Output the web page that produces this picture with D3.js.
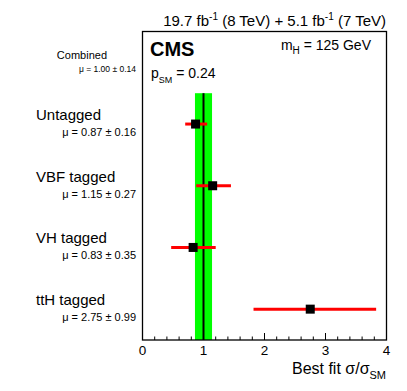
<!DOCTYPE html>
<html><head><meta charset="utf-8">
<script src="https://cdn.jsdelivr.net/npm/d3@7"></script>
<style>body{margin:0;background:#fff}text{font-family:"Liberation Sans",Arial,sans-serif}</style>
</head><body>
<svg id="c" width="407" height="391"></svg>
<script>
const categories = ["Combined", "Untagged", "VBF tagged", "VH tagged", "ttH tagged"];
const muLabels = ["1.00", "0.87", "1.15", "0.83", "2.75"];
const errLabels = ["0.14", "0.16", "0.27", "0.35", "0.99"];
const muValues = [1.00, 0.87, 1.15, 0.83, 2.75];
const errLow = [0.86, 0.70, 0.88, 0.47, 1.82];
const errHigh = [1.14, 1.06, 1.45, 1.20, 3.83];
const xTicks = [0, 1, 2, 3, 4];

const svg = d3.select("#c");
const L = 142.5, R = 386.5, T = 31.5, B = 340;
const x = d3.scaleLinear().domain([0, 4]).range([L, R]);
const y = d3.scaleLinear().domain([-0.5, 4.5]).range([T, B]);

// combined band
svg.append("rect").attr("x", x(errLow[0])).attr("width", x(errHigh[0]) - x(errLow[0]))
  .attr("y", y(0.5)).attr("height", B - y(0.5)).attr("fill", "#00ff00");
svg.append("line").attr("x1", x(muValues[0])).attr("x2", x(muValues[0]))
  .attr("y1", y(0.5)).attr("y2", B).attr("stroke", "#000").attr("stroke-width", 2);

// error bars and points
const rows = d3.range(1, categories.length);
svg.selectAll(".err").data(rows).join("line")
  .attr("x1", i => x(errLow[i])).attr("x2", i => x(errHigh[i]))
  .attr("y1", i => y(i)).attr("y2", i => y(i))
  .attr("stroke", "#ff0000").attr("stroke-width", 3);
svg.selectAll(".pt").data(rows).join("rect")
  .attr("x", i => x(muValues[i]) - 4.5).attr("y", i => y(i) - 4.5)
  .attr("width", 9).attr("height", 9).attr("fill", "#000");

// frame
svg.append("rect").attr("x", L).attr("y", T).attr("width", R - L).attr("height", B - T)
  .attr("fill", "none").attr("stroke", "#000").attr("stroke-width", 1.3);

// ticks (inward)
const minor = d3.range(0, 4.001, 0.2);
svg.selectAll(".tk").data(minor).join("line")
  .attr("x1", d => x(d)).attr("x2", d => x(d))
  .attr("y1", B).attr("y2", d => Math.abs(d - Math.round(d)) < 1e-6 ? B - 7 : B - 3.5)
  .attr("stroke", "#000").attr("stroke-width", 1);
svg.selectAll(".tl").data(xTicks).join("text")
  .attr("x", d => x(d)).attr("y", 355).attr("text-anchor", "middle")
  .attr("font-size", 13.5).text(d => d);

// axis title
const at = svg.append("text").attr("x", 386).attr("y", 374).attr("text-anchor", "end").attr("font-size", 16);
at.append("tspan").text("Best fit σ/σ");
at.append("tspan").attr("font-size", 11).attr("dy", 5).text("SM");

// top title
const tt = svg.append("text").attr("x", 386).attr("y", 26).attr("text-anchor", "end").attr("font-size", 15);
tt.append("tspan").text("19.7 fb");
tt.append("tspan").attr("font-size", 10).attr("dy", -6).text("-1");
tt.append("tspan").attr("dy", 6).text(" (8 TeV) +  5.1 fb");
tt.append("tspan").attr("font-size", 10).attr("dy", -6).text("-1");
tt.append("tspan").attr("dy", 6).text(" (7 TeV)");

svg.append("text").attr("x", 150).attr("y", 56).attr("font-size", 20).attr("font-weight", "bold").text("CMS");
const mh = svg.append("text").attr("x", 371).attr("y", 50).attr("text-anchor", "end").attr("font-size", 14);
mh.append("tspan").text("m");
mh.append("tspan").attr("font-size", 10).attr("dy", 4).text("H");
mh.append("tspan").attr("dy", -4).text(" = 125 GeV");
const ps = svg.append("text").attr("x", 151).attr("y", 78).attr("font-size", 14);
ps.append("tspan").text("p");
ps.append("tspan").attr("font-size", 9).attr("dy", 5).text("SM");
ps.append("tspan").attr("dy", -5).text(" = 0.24");

// category labels
categories.forEach((c, i) => {
  if (i === 0) {
    svg.append("text").attr("x", 107).attr("y", y(0) - 3).attr("text-anchor", "end").attr("font-size", 11).text(c);
    svg.append("text").attr("x", 136).attr("y", y(0) + 10).attr("text-anchor", "end").attr("font-size", 8.5)
      .text("μ = " + muLabels[i] + " ± " + errLabels[i]);
  } else {
    svg.append("text").attr("x", 36).attr("y", y(i) - 4).attr("font-size", 15).text(c);
    svg.append("text").attr("x", 136).attr("y", y(i) + 12).attr("text-anchor", "end").attr("font-size", 11)
      .text("μ = " + muLabels[i] + " ± " + errLabels[i]);
  }
});
</script>
</body></html>
